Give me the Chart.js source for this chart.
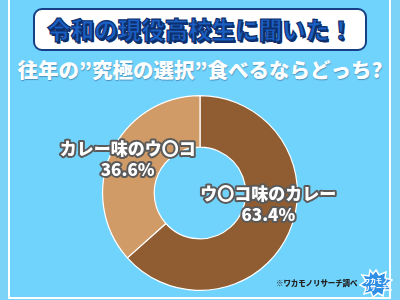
<!DOCTYPE html>
<html><head><meta charset="utf-8">
<script src="https://cdn.jsdelivr.net/npm/chart.js@4/dist/chart.umd.min.js"></script>
<style>
html,body{margin:0;padding:0;width:400px;height:300px;overflow:hidden;background:#7bd3f7;}
#wrap{position:absolute;left:0;top:0;width:400px;height:300px;}
#frame{position:absolute;left:8px;top:-10px;width:379px;height:305px;border:2px solid #fff;background:#70d3fc;}
#titlebox{position:absolute;left:33px;top:8px;width:330px;height:39px;border:2.5px solid #173f86;border-radius:9px;background:#fff;}
#title{position:absolute;left:0;top:12px;width:400px;text-align:center;font-family:"Noto Sans CJK JP";font-weight:900;font-size:23.5px;line-height:34px;color:#1b60c4;-webkit-text-stroke:1.2px #0d2f6e;text-shadow:1.5px 1.5px 0 #0d2f6e;letter-spacing:0;}
#sub{position:absolute;left:0;top:56px;width:400px;text-align:center;font-family:"Noto Sans CJK JP";font-weight:900;font-size:20.5px;line-height:26px;color:#fff;text-shadow:0.5px 0.5px 1px rgba(40,80,120,0.5);}
#foot{position:absolute;left:276px;top:277px;font-family:"Noto Sans CJK JP";font-weight:900;font-size:7.5px;line-height:12px;color:#222;letter-spacing:-0.1px;}
#logo{position:absolute;left:359px;top:268px;}
canvas{position:absolute;left:0;top:0;}
</style></head>
<body>
<div id="wrap">
<div id="frame"></div>
<div id="titlebox"></div>
<div id="title">令和の現役高校生に聞いた！</div>
<div id="sub">往年の”究極の選択”食べるならどっち?</div>
<canvas id="c" width="400" height="300"></canvas>
<div id="foot">※ワカモノリサーチ調べ</div>
<svg id="logo" width="34" height="30" viewBox="0 0 34 30">
<polygon points="17,2 20,7 27,4 26,10 33,12 28,16 32,22 25,22 24,28 19,25 14,29 12,24 5,26 7,20 1,17 7,13 3,7 10,8 11,2 14,6" fill="#2f8fe6" stroke="#fff" stroke-width="1.5"/>
<text x="17" y="15" font-family="Noto Sans CJK JP" font-weight="900" font-size="6" fill="#fff" text-anchor="middle">ワカモノ</text>
<text x="17" y="22" font-family="Noto Sans CJK JP" font-weight="900" font-size="6" fill="#fff" text-anchor="middle">リサーチ</text>
</svg>
</div>
<script>
const categories = ["ウ〇コ味のカレー", "カレー味のウ〇コ"];
const values = [63.4, 36.6];
const colors = ["#8f5d31", "#d09b67"];

const labelPlugin = {
  id: "sliceLabels",
  afterDatasetsDraw(chart) {
    const ctx = chart.ctx;
    const meta = chart.getDatasetMeta(0);
    const offsets = [[3, -29], [-7, -15]];
    meta.data.forEach((arc, i) => {
      const p = arc.tooltipPosition();
      const x = p.x + offsets[i][0];
      const y = p.y + offsets[i][1];
      ctx.save();
      ctx.font = '900 17px "Noto Sans CJK JP"';
      ctx.textAlign = "center";
      ctx.textBaseline = "middle";
      ctx.lineJoin = "round";
      const lines = [categories[i], values[i].toFixed(1) + "%"];
      lines.forEach((t, k) => {
        const yy = y + k * 21;
        ctx.lineWidth = 4;
        ctx.strokeStyle = "#5a5a5a";
        ctx.strokeText(t, x, yy);
        ctx.fillStyle = "#ffffff";
        ctx.fillText(t, x, yy);
      });
      ctx.restore();
    });
  }
};

new Chart(document.getElementById("c"), {
  type: "doughnut",
  data: {
    labels: categories,
    datasets: [{
      data: values,
      backgroundColor: colors,
      borderColor: "#ffffff",
      borderWidth: 1.2
    }]
  },
  options: {
    responsive: false,
    animation: false,
    cutout: "47%",
    layout: { padding: { top: 95, bottom: 9, left: 102, right: 102 } },
    plugins: { legend: { display: false }, tooltip: { enabled: false } }
  },
  plugins: [labelPlugin]
});
</script>
</body></html>
